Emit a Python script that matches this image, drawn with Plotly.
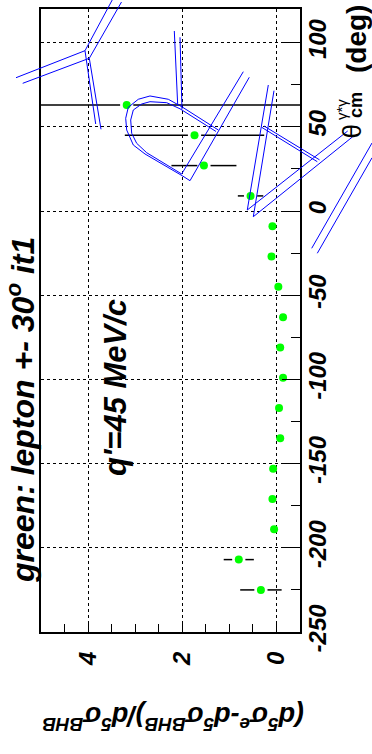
import plotly.graph_objects as go

# ---- data ----
theta_deg = [63, 45, 27, 9, -9, -27, -45, -63, -81, -99, -117, -135, -153, -171, -189, -207, -225]
ratio = [3.18, 1.74, 1.54, 0.55, 0.085, 0.105, -0.04, -0.14, -0.08, -0.14, -0.055, -0.08, 0.07, 0.085, 0.05, 0.80, 0.33]
ratio_err = [10.0, 1.48, 0.69, 0.27, 0.05, 0.05, 0.05, 0.05, 0.05, 0.05, 0.05, 0.05, 0.05, 0.05, 0.05, 0.32, 0.44]

ratio_ticks = [0, 2, 4]
ratio_ticktext = ["0", "2", "4"]
theta_ticks = [-250, -200, -150, -100, -50, 0, 50, 100]
theta_ticktext = ["-250", "-200", "-150", "-100", "-50", "0", "50", "100"]

W, H = 372, 754
L, R, T, B = 41, 300, 9, 632
FONT = "Liberation Sans"


def px(x):
    return (x - L) / (R - L)


def py(y):
    return (B - y) / (B - T)


fig = go.Figure()

# error bars with a gap around the marker (ROOT style)
gap = 0.14
ex, ey = [], []
for t, r, e in zip(theta_deg, ratio, ratio_err):
    if e > gap:
        ex += [r - e, r - gap, None, r + gap, r + e, None]
        ey += [t, t, None, t, t, None]
fig.add_trace(go.Scatter(x=ex, y=ey, mode="lines", line=dict(color="black", width=1.5),
                         hoverinfo="skip", showlegend=False))
fig.add_trace(go.Scatter(x=ratio, y=theta_deg, mode="markers",
                         marker=dict(color="#00ff00", size=8, line=dict(width=0)),
                         showlegend=False))

axfont = dict(family=FONT, size=24, color="black", weight="bold", style="italic")

fig.update_xaxes(range=[5.0, -0.5], tickvals=ratio_ticks, ticktext=ratio_ticktext, automargin=False,
                 tickangle=-90, tickfont=axfont, ticks="inside", ticklen=8, tickwidth=1,
                 tickcolor="black", showgrid=True, gridcolor="black", griddash="dot", gridwidth=1,
                 zeroline=False, showline=True, linecolor="black", linewidth=2, mirror=True,
                 ticklabelstandoff=8,
                 minor=dict(dtick=0.5, tick0=0, ticks="inside", ticklen=8, tickcolor="black",
                            showgrid=False))
fig.update_yaxes(range=[-250, 120], side="right", tickvals=theta_ticks, ticktext=theta_ticktext,
                 automargin=False,
                 tickangle=-90, tickfont=axfont, ticks="inside", ticklen=18, tickwidth=1,
                 tickcolor="black", showgrid=True, gridcolor="black", griddash="dot", gridwidth=1,
                 zeroline=False, showline=True, linecolor="black", linewidth=2, mirror=True,
                 ticklabelstandoff=-5,
                 minor=dict(dtick=25, tick0=0, ticks="inside", ticklen=9, tickcolor="black",
                            showgrid=False))

# blue stroke decorations (pixel coordinates of the reference)
strokes = [
    [(113.3, -2), (85, 50.7), (16, 77.7)],
    [(121.5, 2), (89.3, 58.3), (22.7, 83.3)],
    [(85, 50.7), (95.7, 124)],
    [(89.3, 58.3), (101, 129.3)],
    [(174.3, 31), (177.7, 105)],
    [(180, 37.3), (182, 109.3)],
    [(218.3, 130), (182.7, 107.3), (168.3, 99.3), (150, 96), (138.3, 99.3), (128.3, 107.3),
     (125.7, 118.3), (126.7, 130), (133.3, 145), (145, 154), (182.7, 176), (190, 180.7), (249.3, 77.3)],
    [(216, 131.5), (180, 108.8), (166.7, 102.7), (150, 101.7), (141.7, 104), (133.3, 110),
     (130.7, 120), (131.7, 133.3), (136.7, 143.3), (146.7, 152.7), (181.7, 174), (243.3, 71.7)],
    [(268.3, 85), (247.3, 210), (347.7, 131)],
    [(274, 90.7), (253.3, 216.7), (352.7, 136.7)],
    [(261.7, 127.3), (317.3, 161.7)],
    [(264, 126), (319.5, 159.8)],
    [(372, 143), (311.7, 248.3)],
    [(372, 157.8), (317.3, 253.3)],
]
for s in strokes:
    path = "M " + " L ".join(f"{px(x):.4f},{py(y):.4f}" for x, y in s)
    fig.add_shape(type="path", path=path, xref="paper", yref="paper",
                  line=dict(color="#0000ff", width=1), layer="above")

big = dict(family=FONT, size=32, color="black", weight="bold", style="italic")
fig.add_annotation(text="green: lepton +- 30<sup>o</sup> it1", x=px(21), y=py(410),
                   xref="paper", yref="paper", showarrow=False, textangle=-90, font=big,
                   xanchor="center", yanchor="middle")
fig.add_annotation(text="q'=45 MeV/c", x=px(115), y=py(388),
                   xref="paper", yref="paper", showarrow=False, textangle=-90,
                   font=dict(family=FONT, size=31, color="black", weight="bold", style="italic"),
                   xanchor="center", yanchor="middle")

# theta axis title pieces
fig.add_annotation(text="θ", x=px(351), y=py(131.5), xref="paper", yref="paper", showarrow=False,
                   textangle=-90, font=dict(family=FONT, size=26, color="black"),
                   xanchor="center", yanchor="middle")
fig.add_annotation(text="γ*γ", x=px(341), y=py(110), xref="paper", yref="paper", showarrow=False,
                   textangle=-90, font=dict(family=FONT, size=15, color="black"),
                   xanchor="center", yanchor="middle")
fig.add_annotation(text="cm", x=px(356), y=py(105), xref="paper", yref="paper", showarrow=False,
                   textangle=-90, font=dict(family=FONT, size=18, color="black", weight="bold"),
                   xanchor="center", yanchor="middle")
fig.add_annotation(text="(deg)", x=px(357), y=py(39), xref="paper", yref="paper", showarrow=False,
                   textangle=-90, font=dict(family=FONT, size=28, color="black", weight="bold"),
                   xanchor="center", yanchor="middle")

# ratio axis title (upside down)
fig.add_annotation(text="(d<sup>5</sup>σ<sup>e</sup>-d<sup>5</sup>σ<sup>BHB</sup>)/d<sup>5</sup>σ<sup>BHB</sup>",
                   x=px(173), y=py(718), xref="paper", yref="paper", showarrow=False,
                   textangle=180, font=dict(family=FONT, size=27, color="black", weight="bold", style="italic"),
                   xanchor="center", yanchor="middle")

fig.update_layout(width=W, height=H, margin=dict(l=L, r=W - R, t=T, b=H - B, pad=0),
                  paper_bgcolor="white", plot_bgcolor="white", showlegend=False)

fig.write_html("out.html", config={"displayModeBar": False},
               post_script="document.body.style.margin='0';")
